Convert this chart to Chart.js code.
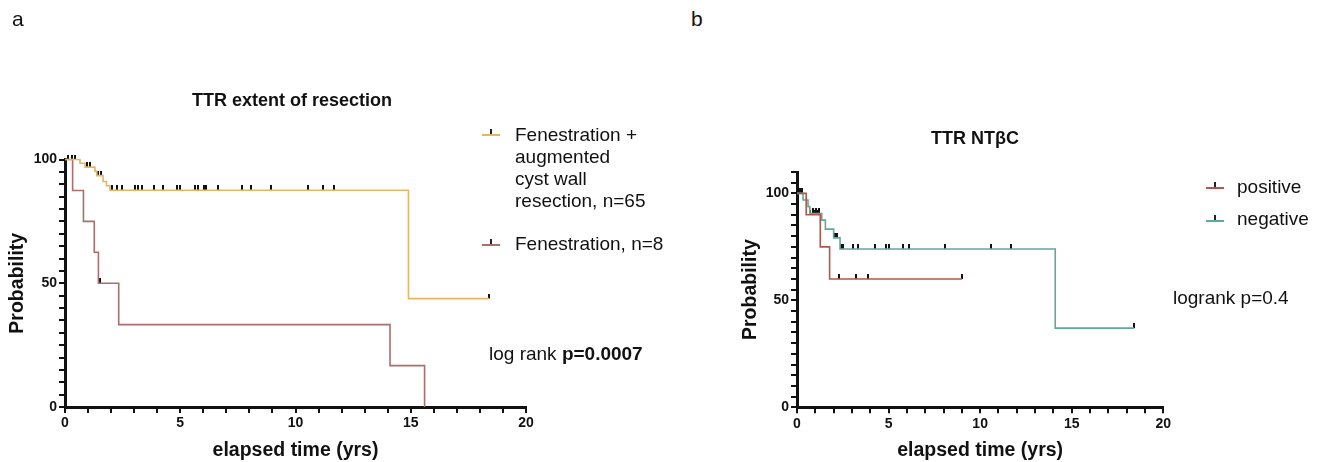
<!DOCTYPE html>
<html>
<head>
<meta charset="utf-8">
<script src="https://cdn.jsdelivr.net/npm/chart.js@4/dist/chart.umd.min.js"></script>
<style>
body{margin:0;width:1327px;height:462px;background:#fff;position:relative;overflow:hidden;font-family:"Liberation Sans",Arial,sans-serif;color:#111}
canvas{position:absolute;top:0}
.t{position:absolute;white-space:nowrap;z-index:2}
.sym{position:absolute;width:18px;height:1.5px;z-index:2}
.sym:after{content:'';position:absolute;left:8px;top:-5px;width:2px;height:5px;background:#222}
</style>
</head>
<body>
<canvas id="chartA" style="left:0" width="600" height="462"></canvas>
<canvas id="chartB" style="left:733px" width="594" height="462"></canvas>

<div class="t" style="left:12px;top:7px;font-size:21px">a</div>
<div class="t" style="left:691px;top:7px;font-size:21px">b</div>
<div class="t" style="left:292px;top:90px;font-size:18px;font-weight:bold;transform:translateX(-50%)">TTR extent of resection</div>
<div class="t" style="left:975px;top:128px;font-size:18px;font-weight:bold;transform:translateX(-50%)">TTR NT&beta;C</div>

<div class="sym" style="left:482px;top:134px;background:#e2b766"></div>
<div class="t" style="left:515px;top:124px;font-size:19px;line-height:22px">Fenestration +<br>augmented<br>cyst wall<br>resection, n=65</div>
<div class="sym" style="left:482px;top:244px;background:#a5706e"></div>
<div class="t" style="left:515px;top:233px;font-size:19px;line-height:22px">Fenestration, n=8</div>
<div class="t" style="left:489px;top:343px;font-size:19px">log rank <b>p=0.0007</b></div>

<div class="sym" style="left:1206px;top:187px;background:#b0584c"></div>
<div class="t" style="left:1237px;top:176px;font-size:19px">positive</div>
<div class="sym" style="left:1206px;top:220px;background:#5fa99b"></div>
<div class="t" style="left:1237px;top:208px;font-size:19px">negative</div>
<div class="t" style="left:1173px;top:287px;font-size:19px">logrank p=0.4</div>

<script>
// x axis labels (years)
const xLabels = [0, 5, 10, 15, 20];

// panel a: Fenestration + augmented cyst wall resection, n=65
const combTimes = [0, 0.65, 0.87, 1.3, 1.38, 1.65, 1.8, 1.95, 14.9, 18.4];
const combSurv = [100, 98.5, 96.9, 95.2, 93.5, 91.1, 89.4, 87.6, 43.8, 43.8];
const combCensor = [0.15, 0.3, 0.45, 0.95, 1.1, 1.45, 1.55, 2.03, 2.27, 2.46, 3.04, 3.16, 3.33,
  3.87, 4.24, 4.85, 4.99, 5.64, 5.76, 6.04, 6.1, 6.65, 7.66, 8.05, 8.93, 10.56, 11.21, 11.68, 18.4];

// panel a: Fenestration, n=8
const fenTimes = [0, 0.33, 0.8, 1.27, 1.45, 2.33, 14.1, 15.6];
const fenSurv = [100, 87.5, 75, 62.5, 50, 33.3, 16.7, 0];
const fenCensor = [1.5];

// panel b: NTbC positive
const posTimes = [0, 0.5, 1.27, 1.78, 9.0];
const posSurv = [100, 90, 75, 60, 60];
const posCensor = [0.7, 0.95, 1.15, 2.27, 3.24, 3.87, 9.0];

// panel b: NTbC negative
const negTimes = [0, 0.33, 0.6, 0.7, 1.35, 1.55, 2.0, 2.35, 14.1, 18.4];
const negSurv = [100, 96.9, 93.8, 90.6, 87.5, 83.3, 79.2, 74.0, 37.0, 37.0];
const negCensor = [0.15, 0.25, 0.85, 1.05, 1.2, 2.1, 2.2, 2.42, 2.49, 3.05, 3.33, 4.27, 4.87,
  5.0, 5.78, 6.13, 8.09, 10.58, 11.69, 18.4];

const FONT = '"Liberation Sans", Arial, sans-serif';
const INK = '#111';

// censor tick: short vertical bar sitting on top of the curve
const tickMark = (() => {
  const c = document.createElement('canvas');
  c.width = 2; c.height = 10;
  const g = c.getContext('2d');
  g.fillStyle = INK;
  g.fillRect(0, 0, 2, 5);
  return c;
})();

const survAt = (times, surv, t) => {
  let v = surv[0];
  times.forEach((tt, i) => { if (tt <= t) v = surv[i]; });
  return v;
};

// KM curve: hold the previous value until the next event time, then drop
const curve = (times, surv, color) => ({
  data: times.map((t, i) => ({ x: t, y: surv[i] })),
  stepped: 'before',
  borderColor: color,
  borderWidth: 1.6,
  pointRadius: 0,
  fill: false,
  clip: false,
});

const marks = (censor, times, surv) => ({
  data: censor.map(t => ({ x: t, y: survAt(times, surv, t) })),
  showLine: false,
  pointStyle: tickMark,
  pointRadius: 5,
  clip: false,
});

const axisStyle = {
  grid: { drawOnChartArea: false, drawTicks: true, tickLength: 6, color: INK, lineWidth: 2 },
  border: { display: true, color: INK, width: 3 },
};

const makeChart = (id, datasets, yMax, pad, yWidth, xHeight) => new Chart(document.getElementById(id), {
  type: 'line',
  data: { datasets },
  options: {
    responsive: false,
    animation: false,
    layout: { padding: pad },
    plugins: { legend: { display: false }, tooltip: { enabled: false } },
    scales: {
      x: {
        type: 'linear', min: 0, max: 20,
        ...axisStyle,
        afterFit: s => { s.height = xHeight; },
        ticks: {
          stepSize: 1, autoSkip: false, maxRotation: 0, padding: 2, color: INK,
          font: { family: FONT, size: 14, weight: 'bold' },
          callback: v => xLabels.includes(v) ? v : '',
        },
        title: {
          display: true, text: 'elapsed time (yrs)', color: INK,
          font: { family: FONT, size: 19.5, weight: 'bold' }, padding: { top: 0, bottom: 0 },
        },
      },
      y: {
        type: 'linear', min: 0, max: yMax,
        ...axisStyle,
        afterFit: s => { s.width = yWidth; },
        ticks: {
          stepSize: 5, autoSkip: false, padding: 2, color: INK,
          font: { family: FONT, size: 14, weight: 'bold' },
          callback: v => v % 50 === 0 ? v : '',
        },
        title: {
          display: true, text: 'Probability', color: INK,
          font: { family: FONT, size: 19.5, weight: 'bold' }, padding: { top: 6, bottom: 0 },
        },
      },
    },
  },
});

makeChart('chartA', [
  curve(combTimes, combSurv, '#e2b766'),
  curve(fenTimes, fenSurv, '#a5706e'),
  marks(combCensor, combTimes, combSurv),
  marks(fenCensor, fenTimes, fenSurv),
], 100, { left: 0, right: 74, top: 159.5, bottom: 0 }, 65, 55);

makeChart('chartB', [
  curve(posTimes, posSurv, '#b0584c'),
  curve(negTimes, negSurv, '#5fa99b'),
  marks(posCensor, posTimes, posSurv),
  marks(negCensor, negTimes, negSurv),
], 110, { left: 0, right: 163.7, top: 172, bottom: 0 }, 64, 54.7);
</script>
</body>
</html>
